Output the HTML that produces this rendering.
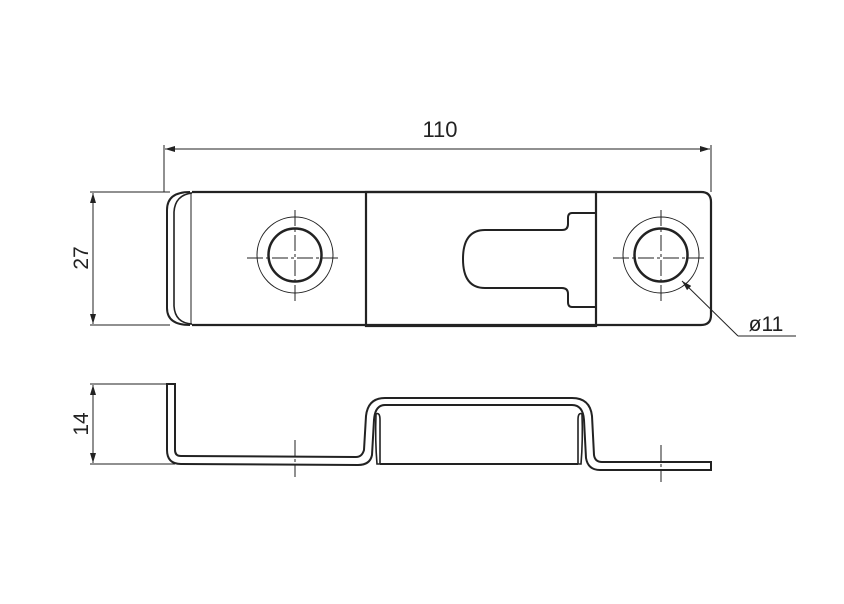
<!DOCTYPE html>
<html><head><meta charset="utf-8"><style>
html,body{margin:0;padding:0;background:#fff;}
svg{display:block;}
text{font-family:"Liberation Sans",sans-serif;fill:#222;}
</style></head><body>
<svg width="844" height="604" viewBox="0 0 844 604" xmlns="http://www.w3.org/2000/svg">
<defs>
<marker id="a" viewBox="0 0 10 6" refX="10" refY="3" markerWidth="14" markerHeight="6" orient="auto-start-reverse" markerUnits="userSpaceOnUse"><path d="M0,0 L10,3 L0,6 z" fill="#222"/></marker>
</defs>
<g stroke="#222" fill="none">
<line x1="164" y1="145" x2="164" y2="192" stroke-width="1"/>
<line x1="711" y1="145" x2="711" y2="192" stroke-width="1"/>
<line x1="165" y1="149" x2="710" y2="149" stroke-width="1" marker-start="url(#a)" marker-end="url(#a)"/>
<line x1="90" y1="192" x2="170" y2="192" stroke-width="1"/>
<line x1="90" y1="325" x2="170" y2="325" stroke-width="1"/>
<line x1="93" y1="193" x2="93" y2="324" stroke-width="1" marker-start="url(#a)" marker-end="url(#a)"/>
<line x1="90" y1="384" x2="175" y2="384" stroke-width="1"/>
<line x1="90" y1="464" x2="175" y2="464" stroke-width="1"/>
<line x1="93" y1="385" x2="93" y2="463" stroke-width="1" marker-start="url(#a)" marker-end="url(#a)"/>

<path d="M192,192 L701,192 Q711,192 711,202 L711,315 Q711,325 701,325 L192,325" stroke-width="2.2"/>
<path d="M190,192 Q167,192 167,210 L167,308 Q167,325 190,325" stroke-width="2"/>
<path d="M192,193 Q175,195 174,212 L174,306 Q175,323 192,324" stroke-width="1.6"/>
<line x1="191" y1="192" x2="191" y2="325" stroke-width="1"/>
<rect x="366" y="192" width="230" height="134" stroke-width="2.2"/>
<path d="M596,213 L572,213 Q568,213 568,218 L568,224 Q568,230 562,230 L485,230 Q463,230 463,259 Q463,288 485,288 L562,288 Q568,288 568,294 L568,302 Q568,307 572,307 L596,307" stroke-width="2"/>
<circle cx="295" cy="255" r="38" stroke-width="1"/>
<circle cx="295" cy="255" r="26.5" stroke-width="2.5"/>
<circle cx="661" cy="255" r="38" stroke-width="1"/>
<circle cx="661" cy="255" r="26.5" stroke-width="2.5"/>
<g stroke-width="1" stroke-dasharray="16,3,3,3">
<line x1="247" y1="258" x2="339" y2="258"/>
<line x1="295" y1="210" x2="295" y2="302"/>
<line x1="613" y1="258" x2="705" y2="258"/>
<line x1="661" y1="210" x2="661" y2="302"/>
</g>
<path d="M738,336 L796,336" stroke-width="1"/>
<line x1="738" y1="336" x2="682" y2="281" stroke-width="1" marker-end="url(#a)"/>

<path d="M167,384 L175,384 L175,450 Q175,456 181,456 L356,457 Q362,457 364,450 L366,416 Q368,398 385,398 L572,398 Q590,398 592,416 L594,455 Q595,462 602,462 L711,462 L711,470 L600,470 Q588,470 586,458 L584,420 Q583,405 572,405 L385,405 Q375,405 374,420 L372,455 Q370,465 358,465 L181,464 Q167,464 167,450 Z" stroke-width="2"/>
<path d="M376,414 Q380,412 380,420 L380,464 L377,464 Q375,440 376,414 Z" stroke-width="1.6"/>
<path d="M582,414 Q578,412 578,420 L578,464 L581,464 Q583,440 582,414 Z" stroke-width="1.6"/>
<line x1="380" y1="464" x2="578" y2="464" stroke-width="2"/>
<g stroke-width="1" stroke-dasharray="16,3,3,3">
<line x1="295" y1="440" x2="295" y2="477"/>
<line x1="661" y1="445" x2="661" y2="482"/>
</g>
</g>
<text x="440" y="137" font-size="22" text-anchor="middle">110</text>
<text x="766" y="331" font-size="21" text-anchor="middle">ø11</text>
<text transform="translate(88,258) rotate(-90)" font-size="21" text-anchor="middle">27</text>
<text transform="translate(88,424) rotate(-90)" font-size="21" text-anchor="middle">14</text>
</svg>
</body></html>
